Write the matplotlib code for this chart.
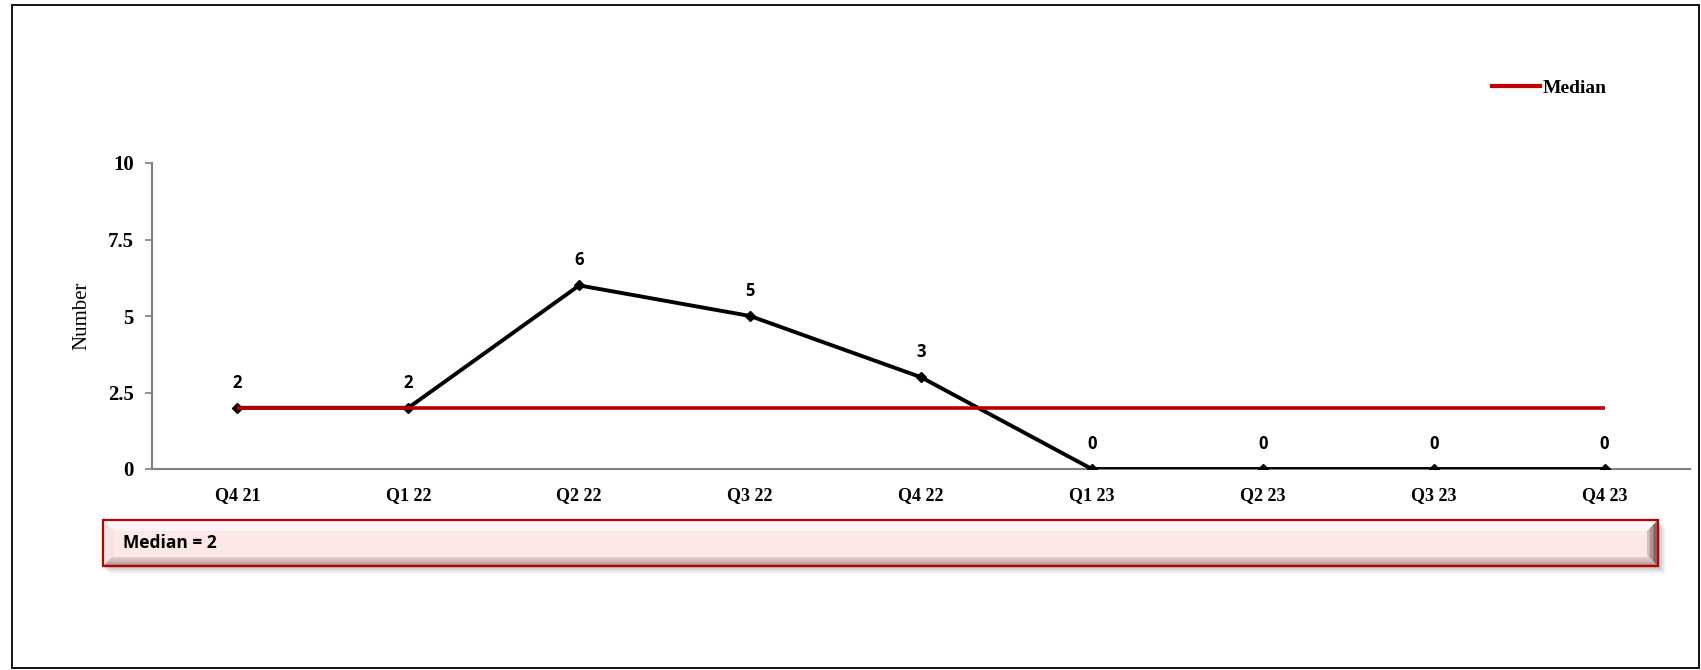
import matplotlib
matplotlib.use("Agg")
import matplotlib.pyplot as plt
from matplotlib.patches import Rectangle, Polygon
from matplotlib.lines import Line2D
from matplotlib.colors import to_rgb
import numpy as np

categories = ["Q4 21", "Q1 22", "Q2 22", "Q3 22", "Q4 22", "Q1 23", "Q2 23", "Q3 23", "Q4 23"]
values = [2, 2, 6, 5, 3, 0, 0, 0, 0]
median_value = 2
median_series = [median_value] * len(categories)
y_ticks = [0, 2.5, 5, 7.5, 10]
y_tick_labels = ["0", "2.5", "5", "7.5", "10"]

W, H = 1701, 670
fig = plt.figure(figsize=(W / 100, H / 100), dpi=100)
fig.patch.set_facecolor("white")

def fx(px):
    return px / W

def fy(py):
    return 1 - py / H

# outer border
fig.add_artist(Rectangle((fx(12), fy(668)), fx(1699) - fx(12), fy(5) - fy(668),
                         transform=fig.transFigure, fill=False, edgecolor="black", linewidth=1.3))

ax_l, ax_r, ax_t, ax_b = 152, 1690, 163, 469
ax = fig.add_axes([fx(ax_l), fy(ax_b), fx(ax_r) - fx(ax_l), fy(ax_t) - fy(ax_b)])
x = np.arange(len(categories))
ax.plot(x, values, color="black", linewidth=2.8, marker="D", markersize=5, zorder=3)
ax.plot(x, median_series, color="#C00000", linewidth=2.6, zorder=4, solid_capstyle="butt")
for xi, v in zip(x, values):
    ax.annotate(str(v), (xi, v), xytext=(0, 18), textcoords="offset points",
                ha="center", va="center", fontsize=12, fontweight="bold",
                family=["Open Sans", "DejaVu Sans"])

ax.set_xlim(-0.5, len(categories) - 0.5)
ax.set_ylim(0, 10)
ax.set_yticks(y_ticks)
ax.set_yticklabels(y_tick_labels, fontsize=15, fontweight="bold", family="Liberation Serif")
ax.set_xticks(x)
ax.set_xticklabels(categories, fontsize=13, fontweight="bold", family="Liberation Serif")
ax.tick_params(axis="x", length=0, pad=13)
ax.tick_params(axis="y", length=5, color="#808080", width=1.2, pad=8)
for s in ["top", "right"]:
    ax.spines[s].set_visible(False)
for s in ["left", "bottom"]:
    ax.spines[s].set_color("#808080")
    ax.spines[s].set_linewidth(1.5)
ax.set_ylabel("Number", fontsize=15, family="Liberation Serif", labelpad=12)
ax.patch.set_alpha(0)

# legend
leg_handle = Line2D([], [], color="#C00000", linewidth=3)
fig.legend([leg_handle], ["Median"], loc="center left",
           bbox_to_anchor=(fx(1474), fy(88)), frameon=False, handlelength=2.5,
           handletextpad=0.15, prop={"family": "Liberation Serif", "weight": "bold", "size": 14})

# median box with bevel and shadow
bl, br, bt, bb = 103, 1658, 520, 566
for i, a in enumerate([0.04, 0.06, 0.08, 0.10]):
    off = 8 - 2 * i
    fig.add_artist(Rectangle((fx(bl + off - 2), fy(bb + off)), fx(br + off) - fx(bl + off - 2),
                             fy(bt + off) - fy(bb + off), transform=fig.transFigure,
                             facecolor="black", edgecolor="none", alpha=a))
face_col = "#FDE8E8"
fig.add_artist(Rectangle((fx(bl), fy(bb)), fx(br) - fx(bl), fy(bt) - fy(bb),
                         transform=fig.transFigure, facecolor=face_col, edgecolor="none"))

def mix(c1, c2, t):
    a, b = np.array(to_rgb(c1)), np.array(to_rgb(c2))
    return tuple(a + (b - a) * t)

def bevel_strips(side, bev, c_in, c_out, n=8):
    for k in range(n):
        d0 = bev * k / n
        d1 = bev * (k + 1) / n
        col = mix(c_out, c_in, (k + 0.5) / n)
        if side == "top":
            pts = [(bl + d0, bt + d0), (br - d0, bt + d0), (br - d1, bt + d1), (bl + d1, bt + d1)]
        elif side == "bottom":
            pts = [(bl + d0, bb - d0), (br - d0, bb - d0), (br - d1, bb - d1), (bl + d1, bb - d1)]
        elif side == "left":
            pts = [(bl + d0, bt + d0), (bl + d1, bt + d1), (bl + d1, bb - d1), (bl + d0, bb - d0)]
        else:
            pts = [(br - d0, bt + d0), (br - d1, bt + d1), (br - d1, bb - d1), (br - d0, bb - d0)]
        fig.add_artist(Polygon([(fx(px), fy(py)) for px, py in pts], closed=True,
                               transform=fig.transFigure, facecolor=col, edgecolor="none"))

bevel_strips("top", 11, "#FFF4F4", "#FFFFFF")
bevel_strips("left", 11, "#F8E0E0", "#FBEAEA")
bevel_strips("bottom", 9, "#E8D2D2", "#8C7676")
bevel_strips("right", 11, "#E0C8C8", "#4A2A2A")
fig.add_artist(Rectangle((fx(bl), fy(bb)), fx(br) - fx(bl), fy(bt) - fy(bb),
                         transform=fig.transFigure, fill=False, edgecolor="#C00000", linewidth=1.6))
fig.text(fx(123), fy(543), f"Median = {median_value}", ha="left", va="center",
         fontsize=12.5, fontweight="bold", family=["Open Sans", "DejaVu Sans"])

fig.savefig("out.png", dpi=100, facecolor="white")
